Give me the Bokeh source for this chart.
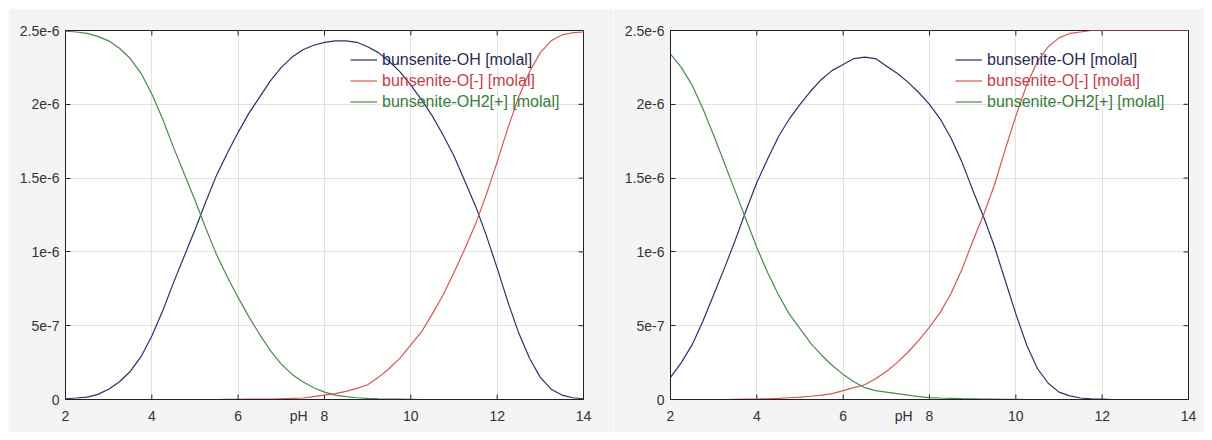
import numpy as np
from bokeh.plotting import figure
from bokeh.layouts import row, column
from bokeh.models import (ColumnDataSource, FixedTicker, Legend, LegendItem,
                          CustomJSTickFormatter, Range1d, Spacer)
from bokeh.embed import file_html
from bokeh.resources import INLINE

nan = float("nan")

# pH grid
ph = [2.0, 2.25, 2.5, 2.75, 3.0, 3.25, 3.5, 3.75, 4.0, 4.25, 4.5, 4.75, 5.0,
      5.25, 5.5, 5.75, 6.0, 6.25, 6.5, 6.75, 7.0, 7.25, 7.5, 7.75, 8.0,
      8.25, 8.5, 8.75, 9.0, 9.25, 9.5, 9.75, 10.0, 10.25, 10.5, 10.75, 11.0,
      11.25, 11.5, 11.75, 12.0, 12.25, 12.5, 12.75, 13.0, 13.25, 13.5, 13.75, 14.0]

# left panel (values in 1e-6 molal)
oh_left = [0.005, 0.01, 0.016, 0.035, 0.07, 0.12, 0.19, 0.29, 0.43, 0.60, 0.79, 0.97, 1.15,
           1.34, 1.52, 1.67, 1.81, 1.94, 2.05, 2.16, 2.25, 2.32, 2.37, 2.40, 2.42,
           2.43, 2.43, 2.42, 2.39, 2.35, 2.29, 2.22, 2.13, 2.03, 1.92, 1.79, 1.65,
           1.48, 1.31, 1.11, 0.89, 0.66, 0.45, 0.28, 0.15, 0.07, 0.03, 0.012, 0.005]
o_left = [nan, nan, nan, nan, nan, nan, nan, 0.0, 0.0, 0.0, 0.0, 0.0, 0.0,
          0.0, 0.0, 0.001, 0.001, 0.002, 0.002, 0.003, 0.005, 0.007, 0.01, 0.02, 0.03,
          0.04, 0.055, 0.075, 0.10, 0.15, 0.21, 0.28, 0.37, 0.46, 0.58, 0.71, 0.86,
          1.02, 1.19, 1.39, 1.61, 1.84, 2.05, 2.22, 2.35, 2.43, 2.47, 2.485, 2.49]
oh2_left = [2.495, 2.49, 2.48, 2.46, 2.43, 2.38, 2.31, 2.21, 2.07, 1.90, 1.71, 1.53, 1.35,
            1.16, 0.98, 0.83, 0.69, 0.56, 0.44, 0.33, 0.24, 0.17, 0.12, 0.08, 0.05,
            0.03, 0.02, 0.012, 0.008, 0.005, 0.003, 0.002, 0.001, 0.0, 0.0, 0.0, 0.0,
            0.0, 0.0, 0.0, 0.0, 0.0, 0.0, 0.0, nan, nan, nan, nan, nan]

# right panel (values in 1e-6 molal)
oh_right = [0.15, 0.25, 0.37, 0.53, 0.71, 0.89, 1.08, 1.28, 1.47, 1.63, 1.78, 1.90, 2.00,
            2.09, 2.17, 2.23, 2.27, 2.31, 2.32, 2.31, 2.26, 2.21, 2.15, 2.08, 2.00,
            1.90, 1.77, 1.61, 1.42, 1.24, 1.04, 0.81, 0.58, 0.37, 0.21, 0.11, 0.05,
            0.025, 0.01, 0.004, 0.002, 0.0, 0.0, 0.0, 0.0, 0.0, 0.0, 0.0, 0.0]
o_right = [0.0, 0.0, 0.0, 0.0, 0.0, 0.0, 0.001, 0.002, 0.003, 0.005, 0.008, 0.012, 0.016,
           0.022, 0.03, 0.04, 0.06, 0.08, 0.10, 0.14, 0.19, 0.25, 0.32, 0.40, 0.49,
           0.59, 0.72, 0.88, 1.07, 1.25, 1.45, 1.69, 1.92, 2.13, 2.29, 2.39, 2.45,
           2.48, 2.49, 2.5, 2.5, 2.5, 2.5, 2.5, 2.5, 2.5, 2.5, 2.5, 2.5]
oh2_right = [2.34, 2.25, 2.13, 1.97, 1.79, 1.60, 1.41, 1.22, 1.03, 0.86, 0.71, 0.58, 0.48,
             0.38, 0.30, 0.23, 0.17, 0.12, 0.08, 0.06, 0.05, 0.04, 0.03, 0.02, 0.013,
             0.01, 0.008, 0.006, 0.005, 0.003, 0.002, 0.001, 0.001, 0.0, 0.0, 0.0, 0.0,
             nan, nan, nan, nan, nan, nan, nan, nan, nan, nan, nan, nan]

series_names = ["bunsenite-OH [molal]", "bunsenite-O[-] [molal]", "bunsenite-OH2[+] [molal]"]
line_colors = ["#2e2e6e", "#d95454", "#4a8a4a"]
text_colors = ["#2a2a5c", "#c83c46", "#3a7d3a"]

x_ticks = [2, 4, 6, 8, 10, 12, 14]
y_ticks = [0, 5e-7, 1e-6, 1.5e-6, 2e-6, 2.5e-6]
y_tick_labels = ["0", "5e-7", "1e-6", "1.5e-6", "2e-6", "2.5e-6"]
x_label = "pH"
x_label_pos = 7.4

FONT = "Liberation Sans"
SCALE = 1e-6
X0, X1, Y0, Y1 = 2, 14, 0, 2.5e-6
FRAME_W, FRAME_H = 518, 369
TICK_PX = 5


def make_panel(data, width, border_left, border_right):
    p = figure(width=width, height=424, output_backend="svg", toolbar_location=None,
               x_range=Range1d(X0, X1), y_range=Range1d(Y0, Y1),
               min_border_left=border_left, min_border_right=border_right,
               min_border_top=22, min_border_bottom=33)
    p.border_fill_color = "#f4f4f4"
    p.background_fill_color = "white"
    p.outline_line_color = "#222222"
    p.outline_line_width = 1

    yfmt = CustomJSTickFormatter(args=dict(tvals=y_ticks, tlabels=y_tick_labels), code="""
        let k = -1;
        for (let j = 0; j < tvals.length; j++) {
            if (Math.abs(tvals[j] - tick) < 1e-12) { k = j; }
        }
        return k < 0 ? '' : tlabels[k];
    """)
    xfmt = CustomJSTickFormatter(args=dict(lpos=x_label_pos, ltext=x_label), code="""
        if (Math.abs(tick - lpos) < 1e-9) { return ltext; }
        return String(tick);
    """)

    xa = p.xaxis[0]
    xa.ticker = FixedTicker(ticks=x_ticks + [x_label_pos])
    xa.formatter = xfmt
    xa.major_tick_in = 0
    xa.major_tick_out = 0
    xa.major_label_standoff = 8

    ya = p.yaxis[0]
    ya.ticker = FixedTicker(ticks=y_ticks)
    ya.formatter = yfmt
    ya.major_tick_in = TICK_PX
    ya.major_tick_out = 0
    ya.major_label_standoff = 6

    for ax in p.axis:
        ax.axis_line_color = "#222222"
        ax.axis_line_width = 1
        ax.major_tick_line_color = "#222222"
        ax.minor_tick_line_color = None
        ax.major_label_text_font = FONT
        ax.major_label_text_font_size = "14px"
        ax.major_label_text_color = "#333333"

    p.xgrid.ticker = FixedTicker(ticks=x_ticks)
    p.ygrid.ticker = FixedTicker(ticks=y_ticks)
    p.xgrid.grid_line_color = "#e2e2e2"
    p.ygrid.grid_line_color = "#e2e2e2"

    # inward tick marks on bottom, top and right edges
    dy = TICK_PX / FRAME_H * (Y1 - Y0)
    dx = TICK_PX / FRAME_W * (X1 - X0)
    xt = np.array(x_ticks, dtype=float)
    yt = np.array(y_ticks, dtype=float)
    p.segment(x0=xt, y0=np.full(len(xt), Y0), x1=xt, y1=np.full(len(xt), Y0 + dy),
              line_color="#222222", line_width=1)
    p.segment(x0=xt, y0=np.full(len(xt), Y1), x1=xt, y1=np.full(len(xt), Y1 - dy),
              line_color="#222222", line_width=1)
    p.segment(x0=np.full(len(yt), X1), y0=yt, x1=np.full(len(yt), X1 - dx), y1=yt,
              line_color="#222222", line_width=1)

    src = ColumnDataSource(dict(
        ph=ph,
        a=np.array(data[0]) * SCALE,
        b=np.array(data[1]) * SCALE,
        c=np.array(data[2]) * SCALE,
    ))
    renderers = []
    for col, color in zip(["a", "b", "c"], line_colors):
        r = p.line("ph", col, source=src, line_color=color, line_width=1.2)
        renderers.append(r)

    bottoms = [329, 308, 287]
    for name, r, tc, yb in zip(series_names, renderers, text_colors, bottoms):
        leg = Legend(items=[LegendItem(label=name, renderers=[r])], location=(285, yb),
                     label_text_color=tc, label_text_font=FONT, label_text_font_size="16px",
                     glyph_width=27, glyph_height=21, label_height=21, label_standoff=5,
                     padding=0, margin=0, spacing=0, border_line_color=None,
                     background_fill_alpha=0)
        p.add_layout(leg)
    return p


left = make_panel([oh_left, o_left, oh2_left], 605, 57, 30)
right = make_panel([oh_right, o_right, oh2_right], 591, 57, 16)

layout = column(Spacer(height=8), row(Spacer(width=8), left, right))
open("out.html", "w").write(file_html(layout, INLINE))
